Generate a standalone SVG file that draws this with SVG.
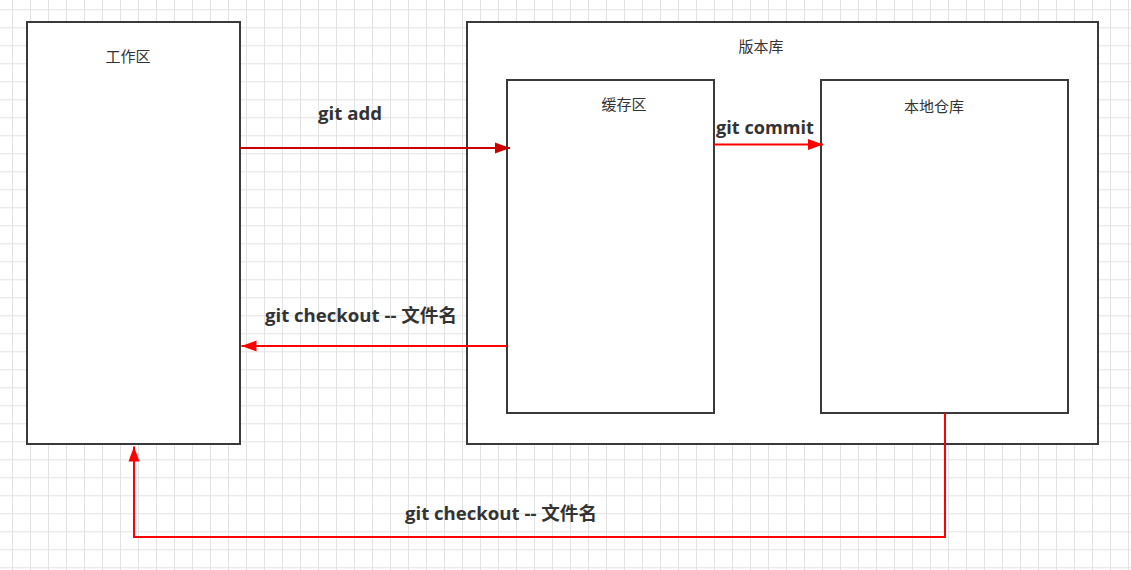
<svg xmlns="http://www.w3.org/2000/svg" width="1131" height="570" viewBox="0 0 1131 570">
<style>
.box{fill:#ffffff;stroke:#3a3a3a;stroke-width:2}
.lbl{font-family:"Noto Sans CJK SC","Noto Sans",sans-serif;font-size:15px;fill:#333333;text-anchor:middle}
.edge{fill:none;stroke-width:2}
.elbl{font-family:"Open Sans","Noto Sans CJK SC",sans-serif;font-size:18px;font-weight:bold;fill:#333333}
</style>
<defs>
<pattern id="grid" patternUnits="userSpaceOnUse" x="12" y="9.3" width="18" height="18">
<path d="M0,0.5 H18 M0.5,0 V18" fill="none" stroke="#e3e3e3" stroke-width="1"/>
</pattern>
<marker id="arrDark" markerUnits="userSpaceOnUse" markerWidth="16" markerHeight="12" refX="15" refY="6" orient="auto">
<path d="M0,0.5 L15,6 L0,11.5 z" fill="#cc0000"/>
</marker>
<marker id="arrRed" markerUnits="userSpaceOnUse" markerWidth="16" markerHeight="12" refX="15" refY="6" orient="auto">
<path d="M0,0.5 L15,6 L0,11.5 z" fill="#ff0000"/>
</marker>
</defs>
<rect x="0" y="0" width="1131" height="570" fill="#ffffff"/>
<rect x="0" y="0" width="1131" height="570" fill="url(#grid)"/>

<g id="workspace">
<rect class="box" x="27" y="22" width="213" height="422"/>
<text class="lbl" x="128" y="62">工作区</text>
</g>
<g id="repository">
<rect class="box" x="467" y="22" width="631" height="422"/>
<text class="lbl" x="761" y="52">版本库</text>
</g>
<g id="stage">
<rect class="box" x="507" y="80" width="207" height="333"/>
<text class="lbl" x="624" y="110">缓存区</text>
</g>
<g id="local-repo">
<rect class="box" x="821" y="80" width="247" height="333"/>
<text class="lbl" x="934" y="112">本地仓库</text>
</g>

<g id="connectors">
<path class="edge" d="M240,148 H510" stroke="#cc0000" marker-end="url(#arrDark)"/>
<text class="elbl" x="318" y="120" textLength="64" lengthAdjust="spacingAndGlyphs">git add</text>
<path class="edge" d="M714,144.5 H823" stroke="#ff0000" marker-end="url(#arrRed)"/>
<text class="elbl" x="716" y="134" textLength="98" lengthAdjust="spacingAndGlyphs">git commit</text>
<path class="edge" d="M507,346 H241.5" stroke="#ff0000" marker-end="url(#arrRed)"/>
<text class="elbl" x="265" y="322" textLength="192" lengthAdjust="spacingAndGlyphs">git checkout -- 文件名</text>
<path class="edge" d="M945,413 V537 H134 V446.5" stroke="#ff0000" marker-end="url(#arrRed)"/>
<text class="elbl" x="405" y="520" textLength="192" lengthAdjust="spacingAndGlyphs">git checkout -- 文件名</text>
</g>
</svg>
